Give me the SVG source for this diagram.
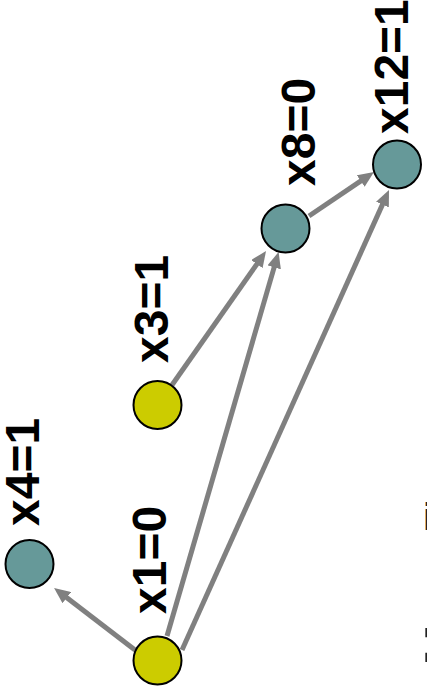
<svg xmlns="http://www.w3.org/2000/svg" width="427" height="687" viewBox="0 0 427 687">
<style>
.lbl{font-family:"Liberation Sans",Arial,sans-serif;font-weight:bold;font-size:48px;fill:#000}
.teal{fill:#669999;stroke:#000;stroke-width:2}
.yel{fill:#cccc00;stroke:#000;stroke-width:2}
.edge{stroke:#808080;stroke-width:5;fill:none;marker-end:url(#ah)}
.frag{font-family:"Liberation Sans",Arial,sans-serif;font-weight:bold;fill:#222}
</style>
<defs>
<marker id="ah" markerUnits="userSpaceOnUse" markerWidth="16" markerHeight="14" refX="6" refY="7" orient="auto">
<path d="M0,0 L16,7 L0,14 z" fill="#808080"/>
</marker>
</defs>
<rect width="427" height="687" fill="#fff"/>
<g id="connectors">
<line class="edge" x1="135" y1="650" x2="62" y2="594"/>
<line class="edge" x1="167" y1="636" x2="275.8" y2="261.6"/>
<line class="edge" x1="172" y1="385" x2="260.3" y2="259.2"/>
<line class="edge" x1="182" y1="650" x2="384.9" y2="199.1"/>
<line class="edge" x1="309" y1="216" x2="365.7" y2="177.6"/>
</g>
<g id="x4"><circle class="teal" cx="29.5" cy="564" r="24"/><text class="lbl" transform="translate(38.5,526) rotate(-90)">x4=1</text></g>
<g id="x1"><circle class="yel" cx="157.5" cy="660.5" r="24"/><text class="lbl" transform="translate(166,614) rotate(-90)">x1=0</text></g>
<g id="x3"><circle class="yel" cx="157.5" cy="405" r="24"/><text class="lbl" transform="translate(168,363) rotate(-90)">x3=1</text></g>
<g id="x8"><circle class="teal" cx="285.5" cy="228.5" r="24"/><text class="lbl" transform="translate(315,186) rotate(-90)">x8=0</text></g>
<g id="x12"><circle class="teal" cx="397" cy="164.5" r="24"/><text class="lbl" transform="translate(408,134) rotate(-90)">x12=1</text></g>
<text class="frag" x="423" y="530" font-size="38">i</text>
<text class="frag" x="419" y="662" font-size="66">:</text>
</svg>
